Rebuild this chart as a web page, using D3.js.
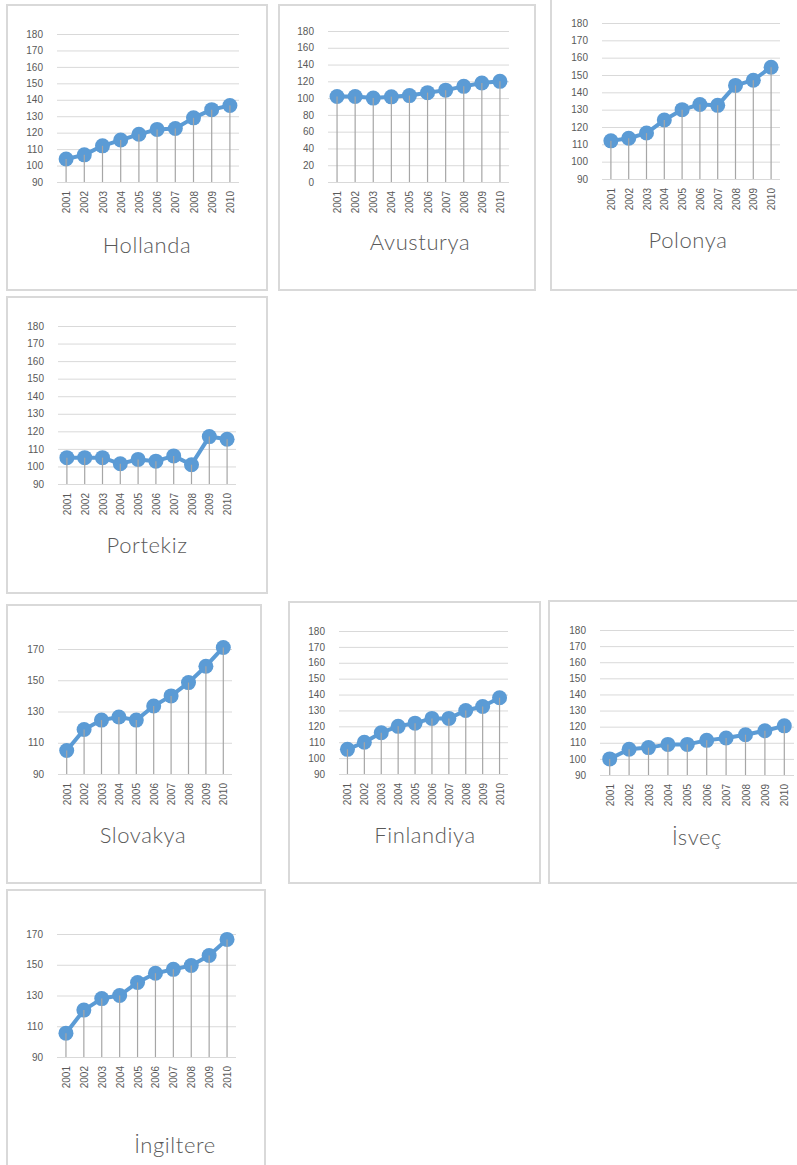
<!DOCTYPE html>
<html>
<head>
<meta charset="utf-8">
<script src="https://cdn.jsdelivr.net/npm/d3@7"></script>
<style>
  body { margin: 0; background: #fff; }
  .tick text { fill: #595959; }
</style>
</head>
<body>
<div id="chart"></div>
<script>
var svgWidth = 797;
var svgHeight = 1165;

// data
var years = ["2001", "2002", "2003", "2004", "2005", "2006", "2007", "2008", "2009", "2010"];
var hollanda = [104, 106.5, 112, 115.5, 119, 122, 122.5, 129, 134, 136.5];
var avusturya = [102, 102, 100, 101.5, 103, 106.5, 109.5, 114, 118, 120];
var polonya = [112, 113.5, 116.5, 124, 130, 133, 132.5, 144, 147, 154.5];
var portekiz = [105, 105, 105, 101.5, 104, 103, 106, 101, 117, 115.5];
var slovakya = [105, 118.5, 124.5, 126.5, 124.5, 133.5, 140, 148.5, 159, 171];
var finlandiya = [105.5, 110, 116, 120, 122, 125, 125, 130, 132.5, 138];
var isvec = [100, 106, 107, 109, 109, 111.5, 113, 115, 117.5, 120.5];
var ingiltere = [105.5, 120.5, 128, 130, 138.5, 144.5, 147, 149.5, 156, 166.5];

var ticks10 = [90, 100, 110, 120, 130, 140, 150, 160, 170, 180];
var ticks20 = [0, 20, 40, 60, 80, 100, 120, 140, 160, 180];
var ticksWide = [90, 110, 130, 150, 170];

// panel layout: frame box, plot box, y domain, title position
var panels = [
  { name: "Hollanda", values: hollanda, frame: [7, 5, 260, 285], plot: [57, 34, 239, 182], domain: [90, 180], ticks: ticks10, title: [147, 253] },
  { name: "Avusturya", values: avusturya, frame: [279, 5, 256, 285], plot: [328, 31, 509, 182], domain: [0, 180], ticks: ticks20, title: [420, 250] },
  { name: "Polonya", values: polonya, frame: [551, -10, 260, 300], plot: [602, 23, 780, 179], domain: [90, 180], ticks: ticks10, title: [688, 248] },
  { name: "Portekiz", values: portekiz, frame: [7, 297, 260, 296], plot: [58, 326, 236, 484], domain: [90, 180], ticks: ticks10, title: [147, 553] },
  { name: "Slovakya", values: slovakya, frame: [7, 605, 254, 278], plot: [58, 649, 232, 774], domain: [90, 170], ticks: ticksWide, title: [143, 843] },
  { name: "Finlandiya", values: finlandiya, frame: [289, 602, 251, 281], plot: [339, 631, 508, 774], domain: [90, 180], ticks: ticks10, title: [425, 843] },
  { name: "İsveç", values: isvec, frame: [549, 601, 260, 282], plot: [600, 630, 794, 775], domain: [90, 180], ticks: ticks10, title: [697, 845] },
  { name: "İngiltere", values: ingiltere, frame: [7, 890, 258, 290], plot: [57, 934, 236, 1057], domain: [90, 170], ticks: ticksWide, title: [175, 1153] }
];

var svg = d3.select("#chart")
  .append("svg")
  .attr("width", svgWidth)
  .attr("height", svgHeight);

panels.forEach(function (p) {
  var g = svg.append("g");

  // frame
  g.append("rect")
    .attr("x", p.frame[0])
    .attr("y", p.frame[1])
    .attr("width", p.frame[2])
    .attr("height", p.frame[3])
    .attr("fill", "#fff")
    .attr("stroke", "#d9d9d9")
    .attr("stroke-width", 2);

  var left = p.plot[0], top = p.plot[1], right = p.plot[2], bottom = p.plot[3];
  var step = (right - left) / years.length;

  var x = d3.scalePoint()
    .domain(years)
    .range([left + step / 2, right - step / 2]);

  var y = d3.scaleLinear()
    .domain(p.domain)
    .range([bottom, top]);

  // gridlines + y labels
  var yAxis = g.append("g")
    .attr("transform", "translate(" + left + ",0)")
    .call(d3.axisLeft(y).tickValues(p.ticks).tickSize(-(right - left)).tickPadding(14));
  yAxis.select(".domain").remove();
  yAxis.selectAll("line").attr("stroke", "#d9d9d9").attr("stroke-width", 1);
  yAxis.selectAll("text")
    .attr("font-family", "Liberation Sans, Arial, sans-serif")
    .attr("font-size", 10);

  // x labels
  var xAxis = g.append("g")
    .attr("transform", "translate(0," + bottom + ")")
    .call(d3.axisBottom(x).tickSize(0).tickPadding(0));
  xAxis.select(".domain").remove();
  xAxis.selectAll("text")
    .attr("font-family", "Liberation Sans, Arial, sans-serif")
    .attr("font-size", 10)
    .attr("transform", "rotate(-90)")
    .attr("text-anchor", "end")
    .attr("x", -9)
    .attr("y", 0)
    .attr("dy", "0.35em");

  var pts = years.map(function (yr, i) { return { year: yr, value: p.values[i] }; });

  // line
  g.append("path")
    .datum(pts)
    .attr("fill", "none")
    .attr("stroke", "#5b9bd5")
    .attr("stroke-width", 4)
    .attr("stroke-linejoin", "round")
    .attr("d", d3.line().x(d => x(d.year)).y(d => y(d.value)));

  // markers
  g.selectAll("circle.dot")
    .data(pts)
    .enter()
    .append("circle")
    .attr("class", "dot")
    .attr("cx", d => x(d.year))
    .attr("cy", d => y(d.value))
    .attr("r", 7.5)
    .attr("fill", "#5b9bd5");

  // drop lines
  g.selectAll("line.drop")
    .data(pts)
    .enter()
    .append("line")
    .attr("class", "drop")
    .attr("x1", d => x(d.year))
    .attr("x2", d => x(d.year))
    .attr("y1", d => y(d.value))
    .attr("y2", bottom)
    .attr("stroke", "#a6a6a6")
    .attr("stroke-width", 1.2);

  // title
  g.append("text")
    .attr("x", p.title[0])
    .attr("y", p.title[1])
    .attr("text-anchor", "middle")
    .attr("font-family", "Lato, Open Sans, sans-serif")
    .attr("font-weight", 300)
    .attr("font-size", 22)
    .attr("letter-spacing", 0.6)
    .attr("fill", "#595959")
    .text(p.name);
});
</script>
</body>
</html>
